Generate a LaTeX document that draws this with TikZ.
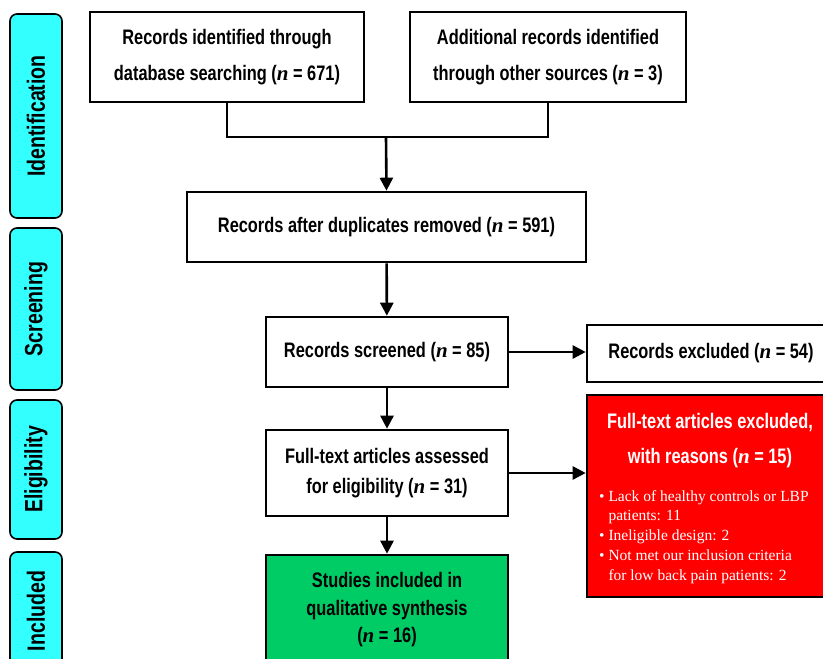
\documentclass[tikz,border=0pt]{standalone}
\usepackage{fontspec}
\usepackage{tikz}
\usetikzlibrary{arrows.meta}
\newfontfamily\condfont[FakeStretch=0.78]{Liberation Sans}
\newfontfamily\slabfont{Liberation Serif}
\newcommand{\nn}{{\slabfont\bfseries\itshape n}}
\definecolor{tabcyan}{RGB}{51,255,255}
\definecolor{exred}{RGB}{255,0,0}
\definecolor{ingreen}{RGB}{0,204,102}
\tikzset{
  flowbox/.style={draw=black, line width=2.6pt, fill=white, align=center, inner sep=0pt,
    font=\condfont\bfseries\fontsize{21}{36}\selectfont},
  phasetab/.style={draw=black, line width=1.6pt, fill=tabcyan, rounded corners=7pt,
    rotate=90, minimum height=52pt, inner sep=0pt,
    font=\condfont\bfseries\fontsize{25}{28}\selectfont},
  flowline/.style={line width=2.6pt},
  flowarrow/.style={line width=2.6pt, -{Triangle[length=13pt,width=13pt]}},
}

\begin{document}
\begin{tikzpicture}[x=1pt, y=-1pt]
    \useasboundingbox (0,0) rectangle (823,659);
    \clip (0,0) rectangle (823,659);

    \node[phasetab, minimum width=204pt] (identification) at (36,116) {Identification};
    \node[phasetab, minimum width=162pt] (screening) at (36,309) {Screening};
    \node[phasetab, minimum width=139pt] (eligibility) at (36,469.5) {Eligibility};
    \node[phasetab, minimum width=118pt] (includedtab) at (36,611) {Included};

    \node[flowbox, minimum width=274pt, minimum height=90pt] (recdb) at (227,57)
        {Records identified through\\database searching (\nn{} = 671)};

    \node[flowbox, minimum width=276pt, minimum height=90pt] (recother) at (548,57)
        {Additional records identified\\through other sources (\nn{} = 3)};

    \node[flowbox, minimum width=399pt, minimum height=70pt] (dedup) at (386.5,227)
        {Records after duplicates removed (\nn{} = 591)};

    \node[flowbox, minimum width=242pt, minimum height=70pt] (screened) at (387,352)
        {Records screened (\nn{} = 85)};

    \node[flowbox, minimum width=248pt, minimum height=57pt] (excluded) at (711,353.5)
        {Records excluded (\nn{} = 54)};

    \node[flowbox, minimum width=242pt, minimum height=86pt,
          font=\condfont\bfseries\fontsize{21}{30}\selectfont] (fulltext) at (387,473)
        {Full-text articles assessed\\for eligibility (\nn{} = 31)};

    \node[flowbox, fill=exred, minimum width=246pt, minimum height=202pt] (ftexcluded) at (710,496) {};

    \node[align=center, text=white, inner sep=0pt,
          font=\condfont\bfseries\fontsize{21}{35}\selectfont] (reasontitle) at (710,441)
        {Full-text articles excluded,\\with reasons (\nn{} = 15)};

    \node[anchor=north west, align=left, text=white, inner sep=0pt,
          font=\slabfont\fontsize{15.5}{19.8}\selectfont] (reasonlist) at (599,490)
        {\textbullet\ Lack of healthy controls or LBP\\
         \phantom{\textbullet\ }patients: 11\\
         \textbullet\ Ineligible design: 2\\
         \textbullet\ Not met our inclusion criteria\\
         \phantom{\textbullet\ }for low back pain patients: 2};

    \node[flowbox, fill=ingreen, minimum width=242pt, minimum height=110pt,
          font=\condfont\bfseries\fontsize{21}{27.5}\selectfont] (included) at (387,610)
        {Studies included in\\qualitative synthesis\\(\nn{} = 16)};

    \coordinate (join) at (386,137);

    \draw[flowline] (recdb.south) |- (join) -| (recother.south);
    \draw[flowarrow] (join) -- (dedup.north);
    \draw[flowarrow] (dedup) -- (screened);
    \draw[flowarrow] (screened.east) -- (screened.east -| excluded.west);
    \draw[flowarrow] (screened) -- (fulltext);
    \draw[flowarrow] (fulltext.east) -- (fulltext.east -| ftexcluded.west);
    \draw[flowarrow] (fulltext) -- (included);

\end{tikzpicture}
\end{document}
